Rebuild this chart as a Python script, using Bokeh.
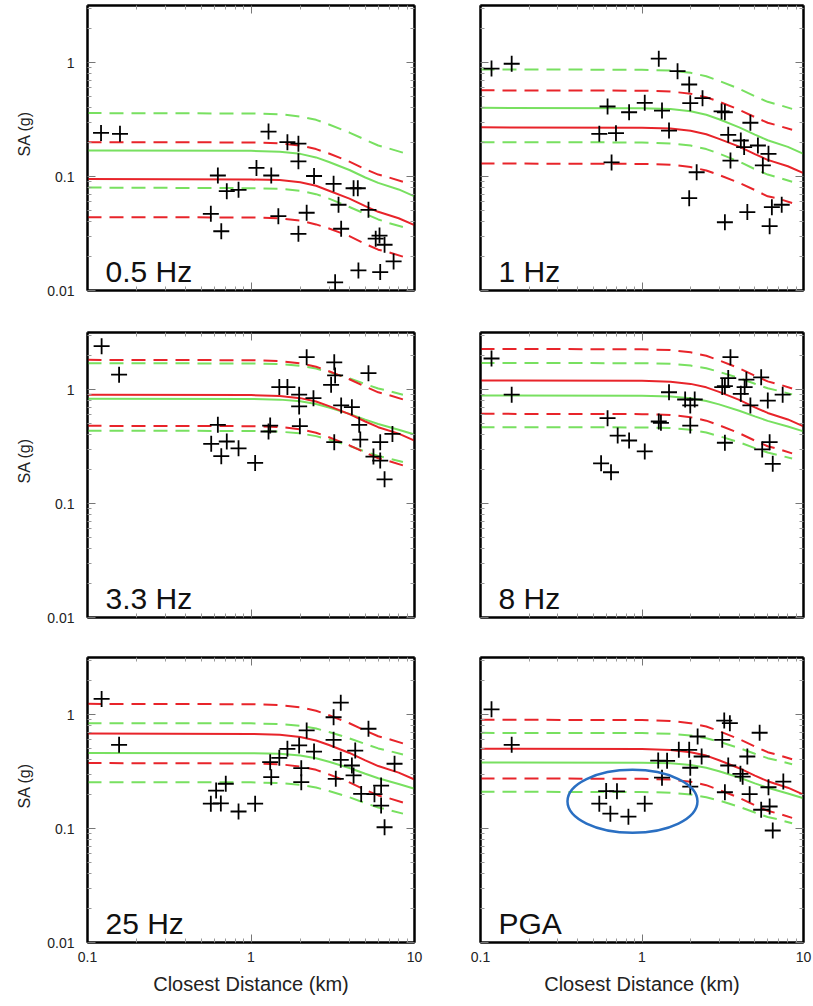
from bokeh.plotting import figure
from bokeh.layouts import column, row
from bokeh.models import (LogAxis, FixedTicker, CustomJSTickFormatter, Label, Range1d,
                          CustomLabelingPolicy, Title)
from bokeh.embed import file_html
from bokeh.resources import INLINE

# ---------------- data ----------------
D_SOLID = [0.1, 1.0, 1.5, 2.0, 2.5, 3.0, 4.0, 5.0, 6.0, 8.0, 10.0]
D_DASH = [0.1, 1.0, 1.5, 2.0, 2.5, 3.0, 4.0, 5.0, 6.0, 7.0, 8.5]

PANEL_LABELS = ["0.5 Hz", "1 Hz", "3.3 Hz", "8 Hz", "25 Hz", "PGA"]
Y_LABEL = "SA (g)"
X_LABEL = "Closest Distance (km)"

# model curves per panel: red median / ±sigma, green median / ±sigma
P1_RED = [0.095, 0.094, 0.093, 0.089, 0.083, 0.075, 0.064, 0.055, 0.049, 0.043, 0.0375]
P1_RED_UP = [0.200, 0.199, 0.195, 0.187, 0.174, 0.159, 0.135, 0.116, 0.104, 0.098, 0.090]
P1_RED_LO = [0.044, 0.0437, 0.043, 0.041, 0.038, 0.035, 0.030, 0.0256, 0.0228, 0.0216, 0.0198]
P1_GRN = [0.169, 0.168, 0.165, 0.158, 0.147, 0.134, 0.114, 0.098, 0.088, 0.077, 0.067]
P1_GRN_UP = [0.36, 0.357, 0.352, 0.336, 0.314, 0.286, 0.243, 0.210, 0.187, 0.176, 0.162]
P1_GRN_LO = [0.080, 0.079, 0.078, 0.075, 0.070, 0.064, 0.054, 0.047, 0.042, 0.039, 0.036]

P2_RED = [0.270, 0.268, 0.264, 0.252, 0.235, 0.214, 0.183, 0.157, 0.140, 0.123, 0.107]
P2_RED_UP = [0.570, 0.566, 0.557, 0.532, 0.496, 0.453, 0.385, 0.332, 0.296, 0.279, 0.257]
P2_RED_LO = [0.130, 0.129, 0.127, 0.121, 0.113, 0.103, 0.088, 0.076, 0.067, 0.064, 0.0585]
P2_GRN = [0.400, 0.397, 0.391, 0.373, 0.348, 0.318, 0.270, 0.233, 0.208, 0.182, 0.158]
P2_GRN_UP = [0.870, 0.864, 0.850, 0.812, 0.758, 0.691, 0.588, 0.506, 0.452, 0.426, 0.392]
P2_GRN_LO = [0.200, 0.199, 0.195, 0.187, 0.174, 0.159, 0.135, 0.116, 0.104, 0.098, 0.090]

P3_RED = [0.900, 0.894, 0.879, 0.840, 0.784, 0.715, 0.608, 0.524, 0.467, 0.410, 0.356]
P3_RED_UP = [1.820, 1.807, 1.778, 1.698, 1.585, 1.445, 1.230, 1.059, 0.945, 0.892, 0.819]
P3_RED_LO = [0.480, 0.477, 0.469, 0.448, 0.418, 0.381, 0.324, 0.279, 0.249, 0.235, 0.216]
P3_GRN = [0.830, 0.826, 0.815, 0.787, 0.745, 0.694, 0.611, 0.544, 0.498, 0.444, 0.403]
P3_GRN_UP = [1.700, 1.692, 1.669, 1.612, 1.525, 1.421, 1.251, 1.115, 1.020, 0.969, 0.901]
P3_GRN_LO = [0.435, 0.433, 0.427, 0.412, 0.390, 0.364, 0.320, 0.285, 0.261, 0.248, 0.231]

P4_RED = [1.200, 1.192, 1.172, 1.120, 1.045, 0.953, 0.811, 0.698, 0.623, 0.546, 0.474]
P4_RED_UP = [2.270, 2.254, 2.218, 2.118, 1.977, 1.802, 1.535, 1.321, 1.178, 1.112, 1.022]
P4_RED_LO = [0.612, 0.608, 0.598, 0.571, 0.533, 0.486, 0.414, 0.356, 0.318, 0.300, 0.275]
P4_GRN = [0.885, 0.881, 0.869, 0.839, 0.794, 0.740, 0.651, 0.581, 0.531, 0.473, 0.429]
P4_GRN_UP = [1.710, 1.701, 1.679, 1.621, 1.534, 1.430, 1.259, 1.122, 1.026, 0.975, 0.906]
P4_GRN_LO = [0.467, 0.465, 0.459, 0.443, 0.419, 0.390, 0.344, 0.306, 0.280, 0.266, 0.248]

P5_RED = [0.680, 0.675, 0.664, 0.634, 0.592, 0.540, 0.460, 0.396, 0.353, 0.309, 0.269]
P5_RED_UP = [1.240, 1.231, 1.211, 1.157, 1.080, 0.985, 0.838, 0.722, 0.644, 0.608, 0.558]
P5_RED_LO = [0.375, 0.372, 0.366, 0.350, 0.327, 0.298, 0.254, 0.218, 0.195, 0.184, 0.169]
P5_GRN = [0.460, 0.458, 0.452, 0.436, 0.413, 0.385, 0.339, 0.302, 0.276, 0.246, 0.223]
P5_GRN_UP = [0.840, 0.836, 0.825, 0.796, 0.753, 0.702, 0.618, 0.551, 0.504, 0.479, 0.445]
P5_GRN_LO = [0.255, 0.254, 0.250, 0.242, 0.229, 0.213, 0.188, 0.167, 0.153, 0.145, 0.135]

P6_RED = [0.500, 0.497, 0.489, 0.467, 0.436, 0.397, 0.338, 0.291, 0.260, 0.228, 0.198]
P6_RED_UP = [0.900, 0.894, 0.879, 0.840, 0.784, 0.715, 0.608, 0.524, 0.467, 0.441, 0.405]
P6_RED_LO = [0.275, 0.273, 0.269, 0.257, 0.240, 0.218, 0.186, 0.160, 0.143, 0.135, 0.124]
P6_GRN = [0.380, 0.378, 0.373, 0.360, 0.341, 0.318, 0.280, 0.249, 0.228, 0.203, 0.184]
P6_GRN_UP = [0.690, 0.687, 0.678, 0.654, 0.619, 0.577, 0.508, 0.453, 0.414, 0.393, 0.366]
P6_GRN_LO = [0.210, 0.209, 0.206, 0.199, 0.188, 0.176, 0.155, 0.138, 0.126, 0.120, 0.111]

# recorded data (crosses): closest distance (km) and SA (g)
P1_DIST = [0.121, 0.158, 1.28, 1.67, 1.95, 1.95, 1.08, 1.33, 0.627, 2.43, 3.20, 0.711, 0.839, 4.24, 4.50,
           3.43, 5.23, 0.568, 1.47, 2.19, 0.658, 1.95, 3.56, 5.79, 6.11, 6.56, 7.45, 4.54, 6.17, 3.27]
P1_SA = [0.241, 0.237, 0.248, 0.200, 0.194, 0.136, 0.119, 0.102, 0.102, 0.101, 0.0863, 0.0743, 0.0764, 0.0789, 0.0789,
         0.0565, 0.051, 0.0471, 0.0449, 0.0481, 0.0331, 0.0314, 0.0348, 0.0285, 0.0303, 0.0252, 0.0180, 0.0150, 0.0145, 0.0118]

P2_DIST = [0.117, 0.156, 1.27, 1.66, 1.96, 1.99, 2.37, 0.612, 0.832, 1.04, 1.33, 3.11, 3.26, 4.69, 0.544, 0.690,
           1.47, 3.42, 4.09, 4.29, 5.22, 6.07, 5.60, 3.53, 0.648, 2.18, 1.96, 3.26, 4.49, 6.17, 6.37, 7.33]
P2_SA = [0.885, 0.975, 1.08, 0.839, 0.641, 0.440, 0.486, 0.411, 0.366, 0.443, 0.379, 0.372, 0.366, 0.296, 0.237, 0.240,
         0.253, 0.232, 0.207, 0.181, 0.187, 0.158, 0.125, 0.138, 0.133, 0.109, 0.0646, 0.0397, 0.0487, 0.0367, 0.0538, 0.0565]

P3_DIST = [0.122, 0.156, 2.19, 3.23, 3.27, 3.09, 5.23, 1.49, 1.67, 1.97, 2.41, 1.97, 3.56, 4.14, 4.59, 4.66,
           0.627, 1.31, 1.28, 1.99, 0.571, 0.711, 0.839, 0.658, 1.06, 3.23, 6.17, 7.33, 5.61, 6.17, 6.56]
P3_SA = [2.40, 1.35, 1.92, 1.73, 1.33, 1.10, 1.39, 1.05, 1.05, 0.90, 0.84, 0.71, 0.725, 0.70, 0.49, 0.364,
         0.49, 0.483, 0.428, 0.477, 0.334, 0.350, 0.305, 0.260, 0.227, 0.345, 0.345, 0.408, 0.258, 0.238, 0.163]

P4_DIST = [0.117, 0.156, 3.53, 3.42, 3.14, 3.26, 4.43, 5.47, 4.32, 4.09, 4.69, 6.01, 7.43, 1.47, 1.85,
           2.12, 1.99, 0.612, 1.27, 1.31, 1.99, 0.707, 0.832, 1.04, 3.26, 6.17, 5.55, 6.45, 0.558, 0.643]
P4_SA = [1.87, 0.90, 1.92, 1.26, 1.05, 1.07, 1.22, 1.28, 1.05, 0.916, 0.725, 0.80, 0.90, 0.946, 0.817,
         0.817, 0.725, 0.56, 0.524, 0.51, 0.483, 0.394, 0.357, 0.286, 0.341, 0.345, 0.298, 0.223, 0.225, 0.188]

P5_DIST = [0.122, 0.156, 3.54, 3.20, 5.23, 2.19, 3.20, 4.34, 1.97, 1.67, 2.43, 1.49, 1.31, 3.54, 4.14, 7.55,
           2.03, 1.33, 2.03, 3.30, 4.24, 6.25, 4.72, 5.69, 6.25, 6.56, 0.701, 0.612, 0.568, 0.654, 0.839, 1.06]
P5_SA = [1.37, 0.542, 1.27, 0.946, 0.75, 0.725, 0.60, 0.483, 0.535, 0.50, 0.473, 0.417, 0.382, 0.40, 0.357, 0.37,
         0.338, 0.282, 0.255, 0.273, 0.292, 0.238, 0.201, 0.20, 0.159, 0.1026, 0.247, 0.215, 0.165, 0.166, 0.141, 0.165]

P6_DIST = [0.117, 0.156, 3.23, 3.50, 5.35, 2.21, 3.14, 1.69, 1.96, 2.34, 4.49, 1.26, 1.43, 3.42, 1.99, 1.33,
           4.07, 4.20, 7.50, 1.99, 3.26, 4.64, 6.07, 6.17, 5.47, 6.45, 0.60, 0.70, 0.544, 0.637, 0.824, 1.04]
P6_SA = [1.11, 0.542, 0.885, 0.84, 0.692, 0.641, 0.60, 0.49, 0.49, 0.428, 0.428, 0.394, 0.392, 0.357, 0.341, 0.279,
         0.302, 0.285, 0.258, 0.233, 0.208, 0.20, 0.23, 0.156, 0.146, 0.096, 0.213, 0.212, 0.165, 0.135, 0.127, 0.165]

# highlighted group in the PGA panel (centre in data units)
ELLIPSE_X = 0.873
ELLIPSE_Y = 0.173

X_TICKS = [0.1, 1, 10]
X_MINOR = [0.2, 0.3, 0.4, 0.5, 0.6, 0.7, 0.8, 0.9, 2, 3, 4, 5, 6, 7, 8, 9]
Y_TICKS = [0.01, 0.1, 1]
Y_MINOR = [0.02, 0.03, 0.04, 0.05, 0.06, 0.07, 0.08, 0.09, 0.2, 0.3, 0.4, 0.5, 0.6, 0.7, 0.8, 0.9, 2, 3]

PANELS = [
    (P1_RED, P1_RED_UP, P1_RED_LO, P1_GRN, P1_GRN_UP, P1_GRN_LO, P1_DIST, P1_SA),
    (P2_RED, P2_RED_UP, P2_RED_LO, P2_GRN, P2_GRN_UP, P2_GRN_LO, P2_DIST, P2_SA),
    (P3_RED, P3_RED_UP, P3_RED_LO, P3_GRN, P3_GRN_UP, P3_GRN_LO, P3_DIST, P3_SA),
    (P4_RED, P4_RED_UP, P4_RED_LO, P4_GRN, P4_GRN_UP, P4_GRN_LO, P4_DIST, P4_SA),
    (P5_RED, P5_RED_UP, P5_RED_LO, P5_GRN, P5_GRN_UP, P5_GRN_LO, P5_DIST, P5_SA),
    (P6_RED, P6_RED_UP, P6_RED_LO, P6_GRN, P6_GRN_UP, P6_GRN_LO, P6_DIST, P6_SA),
]

# ---------------- styling ----------------
FONT = "Liberation Sans"
RED = "#e8242a"
GREEN = "#78e060"
DASH = "14 8"
FRAME_H = 285

NO_LABELS = "for (const i of indices) { indices.unset(i) }\nreturn indices"


def style_axis(ax, ticks, minor, show_labels):
    ax.ticker = FixedTicker(ticks=ticks, minor_ticks=minor)
    ax.formatter = CustomJSTickFormatter(code="return tick.toString();")
    ax.axis_line_color = "black"
    ax.axis_line_width = 2
    ax.major_tick_in = 8
    ax.major_tick_out = 0
    ax.minor_tick_in = 4
    ax.minor_tick_out = 0
    ax.major_tick_line_color = "#777777"
    ax.minor_tick_line_color = "#999999"
    ax.major_tick_line_width = 1
    ax.minor_tick_line_width = 1
    ax.major_label_text_font = FONT
    ax.major_label_text_color = "#222222"
    ax.major_label_text_font_size = "14px"
    ax.axis_label_text_font = FONT
    ax.axis_label_text_font_style = "normal"
    ax.axis_label_text_color = "#222222"
    if not show_labels:
        # hidden labels: nothing drawn and no space reserved
        ax.major_label_policy = CustomLabelingPolicy(code=NO_LABELS)
        ax.major_label_text_font_size = "0px"
        ax.major_label_standoff = 0
        ax.axis_label_standoff = 0


def make_panel(idx):
    red, red_up, red_lo, grn, grn_up, grn_lo, dist, sa = PANELS[idx]
    r, c = divmod(idx, 2)
    left_col = c == 0
    bottom_row = r == 2
    fw = 327 if left_col else 323
    mb_left = 87 if left_col else 46
    mb_right = 20 if left_col else 10
    mb_top = [5, 22, 20][r]
    mb_bottom = [20, 20, 57][r]

    p = figure(x_axis_type="log", y_axis_type="log",
               x_range=Range1d(0.1, 10), y_range=Range1d(0.01, 3.1623),
               frame_width=fw, frame_height=FRAME_H,
               min_border_left=mb_left, min_border_right=mb_right,
               min_border_top=mb_top, min_border_bottom=mb_bottom,
               output_backend="svg", toolbar_location=None,
               background_fill_color="white", border_fill_color="white")
    p.grid.visible = False
    p.outline_line_color = "black"
    p.outline_line_width = 2

    style_axis(p.xaxis[0], X_TICKS, X_MINOR, bottom_row)
    style_axis(p.yaxis[0], Y_TICKS, Y_MINOR, left_col)
    if bottom_row:
        p.xaxis[0].axis_label = X_LABEL
        p.xaxis[0].axis_label_text_font_size = "20px"
        p.xaxis[0].major_label_standoff = 9
        p.xaxis[0].axis_label_standoff = 8
    if left_col:
        p.yaxis[0].major_label_standoff = 13
        # y title sits a little above the frame centre, as in the reference
        p.add_layout(Title(text=Y_LABEL, align="left", offset=134, standoff=23,
                           text_font=FONT, text_font_size="16px", text_font_style="normal",
                           text_color="#222222"), "left")

    top_ax = LogAxis()
    style_axis(top_ax, X_TICKS, X_MINOR, False)
    p.add_layout(top_ax, "above")
    right_ax = LogAxis()
    style_axis(right_ax, Y_TICKS, Y_MINOR, False)
    p.add_layout(right_ax, "right")

    p.line(D_DASH, grn_up, line_color=GREEN, line_width=2, line_dash=DASH)
    p.line(D_DASH, grn_lo, line_color=GREEN, line_width=2, line_dash=DASH)
    p.line(D_DASH, red_up, line_color=RED, line_width=2, line_dash=DASH)
    p.line(D_DASH, red_lo, line_color=RED, line_width=2, line_dash=DASH)
    p.line(D_SOLID, grn, line_color=GREEN, line_width=2)
    p.line(D_SOLID, red, line_color=RED, line_width=2)

    p.scatter(dist, sa, marker="cross", size=16, line_color="black", line_width=1.8)

    if idx == 5:
        p.ellipse(x=[ELLIPSE_X], y=[ELLIPSE_Y], width=130, height=63,
                  width_units="screen", height_units="screen",
                  fill_alpha=0, line_color="#2a6fc2", line_width=2.5)

    p.add_layout(Label(x=18, y=19, x_units="screen", y_units="screen",
                       text=PANEL_LABELS[idx], text_font=FONT, text_font_size="30px",
                       text_color="#111111", text_baseline="alphabetic"))
    return p


figs = [make_panel(i) for i in range(6)]
layout = column(row(figs[0], figs[1]), row(figs[2], figs[3]), row(figs[4], figs[5]))

open("out.html", "w").write(file_html(layout, INLINE))
